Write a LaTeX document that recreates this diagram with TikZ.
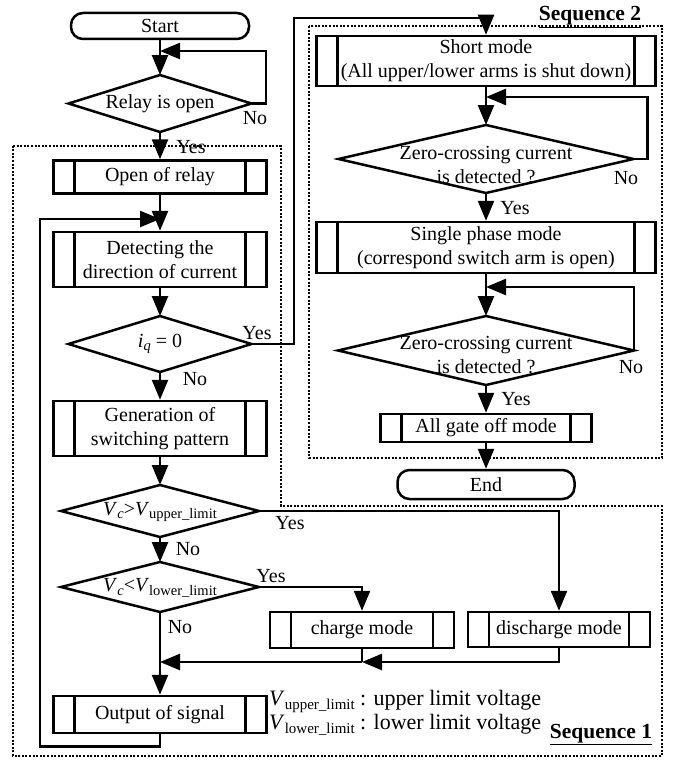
\documentclass[tikz,border=0pt]{standalone}
\usepackage{fontspec}
\setmainfont{Liberation Serif}
\usetikzlibrary{arrows.meta,shapes.geometric,calc}
\newcommand\mfs{\fontsize{20}{24}\selectfont}
\newcommand\dsub[1]{\raisebox{-3.5pt}{\fontsize{14.5}{15}\selectfont #1}}
\newcommand\lsub[1]{\raisebox{-4pt}{\fontsize{15}{16}\selectfont #1}}
\tikzset{
  lw/.style={line width=2.5pt},
  arr/.style={lw, -{Triangle[length=20pt,width=16pt]}},
  seqline/.style={line width=1.2pt, dash pattern=on 2pt off 1.6pt},
  proc/.style 2 args={draw, lw, rectangle, minimum width=#1pt, minimum height=#2pt,
    inner sep=0pt, align=center, font=\mfs,
    path picture={\draw[lw] ([xshift=21pt]path picture bounding box.north west) -- ([xshift=21pt]path picture bounding box.south west)
      ([xshift=-21pt]path picture bounding box.north east) -- ([xshift=-21pt]path picture bounding box.south east);}},
  dec/.style 2 args={draw, lw, diamond, minimum width=#1pt, minimum height=#2pt, inner sep=0pt, outer sep=0pt},
  term/.style 2 args={draw, lw, rectangle, rounded corners=12pt, minimum width=#1pt, minimum height=#2pt, inner sep=0pt, font=\mfs},
  txt/.style={inner sep=0pt, align=center, font=\mfs},
  lbl/.style={inner sep=0pt, font=\mfs},
  seqlbl/.style={inner sep=0pt, anchor=base, font=\bfseries\fontsize{21.5}{24}\selectfont},
  leg/.style={inner sep=0pt, anchor=base west, font=\fontsize{22}{26}\selectfont}
}
\begin{document}
\begin{tikzpicture}[x=1pt,y=-1pt]
\useasboundingbox (0,0) rectangle (681,760);
% sequence regions
\draw[seqline] (13,146) -- (281,146) -- (281,506) -- (662,506) -- (662,756) -- (13,756) -- cycle;
\draw[seqline] (309,26) rectangle (662,458);
\node[seqlbl] (seq2) at (590,21) {\underline{Sequence 2}};
\node[seqlbl] (seq1) at (601,738) {\underline{Sequence 1}};

% main column
\node[term={178}{26}] (start) at (160,26) {Start};
\node[dec={183}{57}] (relay) at (160,103.5) {};
\node[txt] (relayt) at (160,103.5) {Relay is open};
\node[proc={213}{33}] (open) at (160,177) {Open of relay};
\node[proc={213}{55}] (detect) at (160,259.5) {Detecting the\\direction of current};
\node[dec={183}{56}] (iq) at (160,344) {};
\node[txt] (iqt) at (160,344) {\textit{i}\dsub{\textit{q}} = 0};
\node[proc={213}{55}] (gen) at (160,428.5) {Generation of\\switching pattern};
\node[dec={198}{52}] (up) at (160,511) {};
\node[txt] (upt) at (160,512) {\textit{V}\dsub{\textit{c}}>\textit{V}\dsub{upper\_limit}};
\node[dec={198}{50}] (low) at (160,587) {};
\node[txt] (lowt) at (160,588) {\textit{V}\dsub{\textit{c}}<\textit{V}\dsub{lower\_limit}};
\node[proc={184}{36}] (charge) at (362,630) {charge mode};
\node[proc={182}{35}] (dis) at (559,629.5) {discharge mode};
\node[proc={213}{37}] (out) at (160,714.5) {Output of signal};

% sequence 2 column
\node[proc={339}{50}] (short) at (486,61) {Short mode\\(All upper/lower arms is shut down)};
\node[dec={295}{68}] (zc1) at (486,159) {};
\node[txt] (zc1t) at (486,165) {Zero-crossing current\\is detected ?};
\node[proc={339}{51}] (single) at (486,247.5) {Single phase mode\\(correspond switch arm is open)};
\node[dec={296}{69}] (zc2) at (486,350.5) {};
\node[txt] (zc2t) at (486,355) {Zero-crossing current\\is detected ?};
\node[proc={211}{28}] (gate) at (486,428) {All gate off mode};
\node[term={177}{29}] (end) at (486,484.5) {End};

% legend
\node[leg] (leg1) at (269,705) {\textit{V}\lsub{upper\_limit} : upper limit voltage};
\node[leg] (leg2) at (269,729) {\textit{V}\lsub{lower\_limit} : lower limit voltage};

% labels
\node[lbl] (l1) at (255,118) {No};
\node[lbl] (l2) at (191,147) {Yes};
\node[lbl] (l3) at (257,333) {Yes};
\node[lbl] (l4) at (195,379) {No};
\node[lbl] (l5) at (290,523) {Yes};
\node[lbl] (l6) at (188,549) {No};
\node[lbl] (l7) at (271,576) {Yes};
\node[lbl] (l8) at (180,627) {No};
\node[lbl] (l9) at (626,178) {No};
\node[lbl] (l10) at (515,208) {Yes};
\node[lbl] (l11) at (631,367) {No};
\node[lbl] (l12) at (516,399) {Yes};

% junction coordinates
\coordinate (j1) at (160,51);
\coordinate (j2) at (160,219);
\coordinate (j3) at (486,97);
\coordinate (j4) at (486,287);
\coordinate (m1) at (362,662);
\coordinate (m2) at (160,662);

% connectors main
\draw[arr] (start) -- (relay);
\draw[arr] (relay.east) -| (266,51) -- (j1);
\draw[arr] (relay) -- (open);
\draw[arr] (open) -- (detect);
\draw[arr] (out.south) -- ++(0,12) -| (40,219) -- (j2);
\draw[arr] (detect) -- (iq);
\draw[arr] (iq.east) -- (294,344) |- (486,18) -- (short.north);
\draw[arr] (iq) -- (gen);
\draw[arr] (gen) -- (up);
\draw[arr] (up.east) -| (dis.north);
\draw[arr] (up) -- (low);
\draw[arr] (low.east) -| (charge.north);
\draw[arr] (low) -- (out);
\draw[arr] (dis.south) |- (m1);
\draw[lw] (charge.south) -- (m1);
\draw[arr] (m1) -- (m2);

% connectors sequence 2
\draw[arr] (short) -- (zc1);
\draw[arr] (zc1.east) -- ++(14,0) |- (j3);
\draw[arr] (zc1) -- (single);
\draw[arr] (single) -- (zc2);
\draw[arr] (zc2.east) |- (j4);
\draw[arr] (zc2) -- (gate);
\draw[arr] (gate) -- (end);
\end{tikzpicture}
\end{document}
